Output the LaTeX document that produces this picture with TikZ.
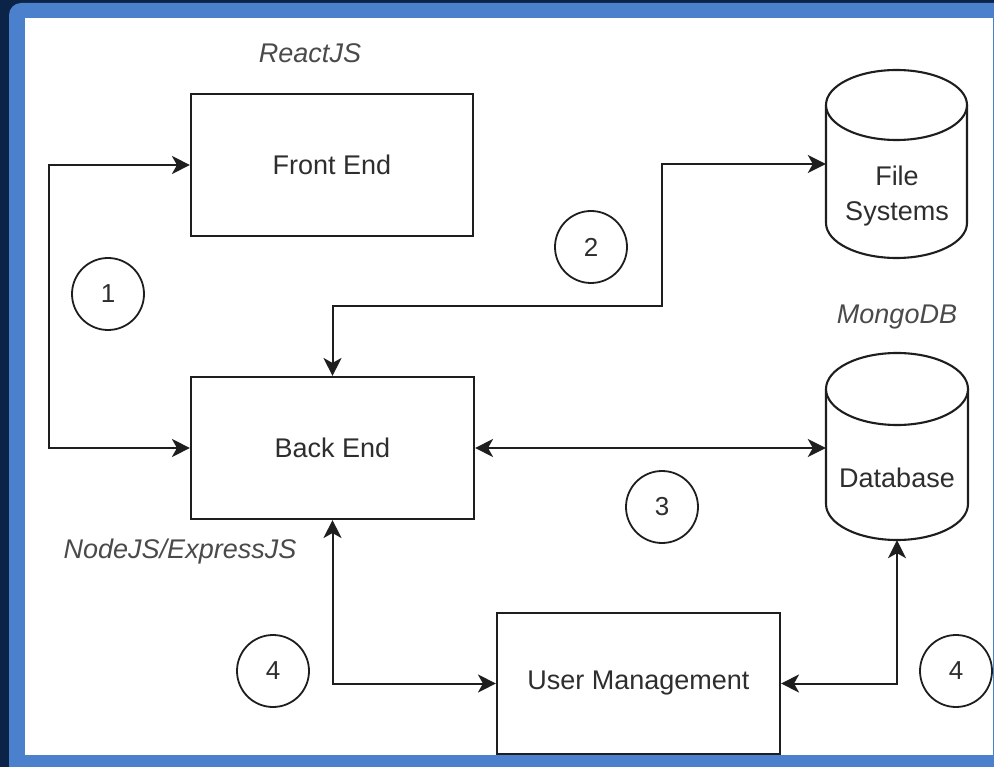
\documentclass[tikz,border=0pt]{standalone}
\usepackage{fontspec}
\setmainfont{Liberation Sans}
\usetikzlibrary{arrows.meta}
\definecolor{navy}{HTML}{0B2347}
\definecolor{frameblue}{HTML}{4A80CC}
\definecolor{ink}{HTML}{1E1E1E}
\definecolor{txt}{HTML}{2E2E2E}
\definecolor{itxt}{HTML}{4A4A4A}
\tikzset{
  box/.style={draw=ink, line width=2.1pt, fill=white, inner sep=0pt, text=txt, font=\fontsize{27}{33}\selectfont},
  cylnode/.style={inner sep=0pt, text=txt, font=\fontsize{27}{35}\selectfont, align=center},
  cylline/.style={draw=ink, line width=2.1pt},
  numc/.style={circle, draw=ink, line width=1.8pt, minimum size=72pt, inner sep=0pt, text=txt, font=\fontsize{26}{30}\selectfont},
  tech/.style={text=itxt, font=\fontsize{27}{32}\selectfont\itshape, inner sep=0pt},
  conn/.style={draw=ink, line width=2pt, {Stealth[length=18pt,width=18pt,inset=5pt]}-{Stealth[length=18pt,width=18pt,inset=5pt]}}
}
\begin{document}
\begin{tikzpicture}[x=1pt,y=-1pt]
\useasboundingbox (0,0) rectangle (994,767);
% frame
\fill[navy] (0,0) rectangle (994,767);
\fill[frameblue, rounded corners=12pt] (9,3) rectangle (1015,790);
\fill[white] (25,18) rectangle (993,755);

% cylinders (drawn shapes)
\fill[white] (826,105) -- (826,223) .. controls (826,242.3) and (857.6,258) .. (896.5,258) .. controls (935.4,258) and (967,242.3) .. (967,223) -- (967,105) -- cycle;
\draw[cylline] (826,105) -- (826,223) .. controls (826,242.3) and (857.6,258) .. (896.5,258) .. controls (935.4,258) and (967,242.3) .. (967,223) -- (967,105);
\draw[cylline, fill=white] (896.5,105) ellipse [x radius=70.5, y radius=35];

\fill[white] (826,389) -- (826,504) .. controls (826,523.9) and (857.8,540) .. (897,540) .. controls (936.2,540) and (968,523.9) .. (968,504) -- (968,389) -- cycle;
\draw[cylline] (826,389) -- (826,504) .. controls (826,523.9) and (857.8,540) .. (897,540) .. controls (936.2,540) and (968,523.9) .. (968,504) -- (968,389);
\draw[cylline, fill=white] (897,389) ellipse [x radius=71, y radius=36];

% nodes
\node[box, minimum width=282pt, minimum height=142pt] (fe) at (332,165) {Front End};
\node[box, minimum width=283pt, minimum height=142pt] (be) at (332.5,448) {Back End};
\node[box, minimum width=283pt, minimum height=141pt] (um) at (638.5,683.5) {User Management};
\node[cylnode, minimum width=141pt, minimum height=188pt] (fs) at (896.5,164) {};
\node[cylnode] (fstext) at (897,196) {File\\Systems};
\node[cylnode, minimum width=142pt, minimum height=187pt] (db) at (897,446.5) {};
\node[cylnode] (dbtext) at (897,478) {Database};

\node[tech] (react) at (310,53) {ReactJS};
\node[tech] (nodejs) at (180,552) {NodeJS/ExpressJS};
\node[tech] (mongo) at (897,317) {MongoDB};

\node[numc] (n1) at (108,294) {1};
\node[numc] (n2) at (591,247) {2};
\node[numc] (n3) at (662,507) {3};
\node[numc] (n4a) at (273,671) {4};
\node[numc] (n4b) at (956,671) {4};

% connectors
\coordinate (j1) at (49,165);
\coordinate (j2) at (662,306);
\draw[conn] (fe.west) -- (j1) |- (be.west);
\draw[conn] (be.north) |- (j2) |- (fs.west);
\draw[conn] (be.east) -- (be.east -| db.west);
\draw[conn] (be.south) |- (um.west);
\draw[conn] (db.south) |- (um.east);
\end{tikzpicture}
\end{document}
